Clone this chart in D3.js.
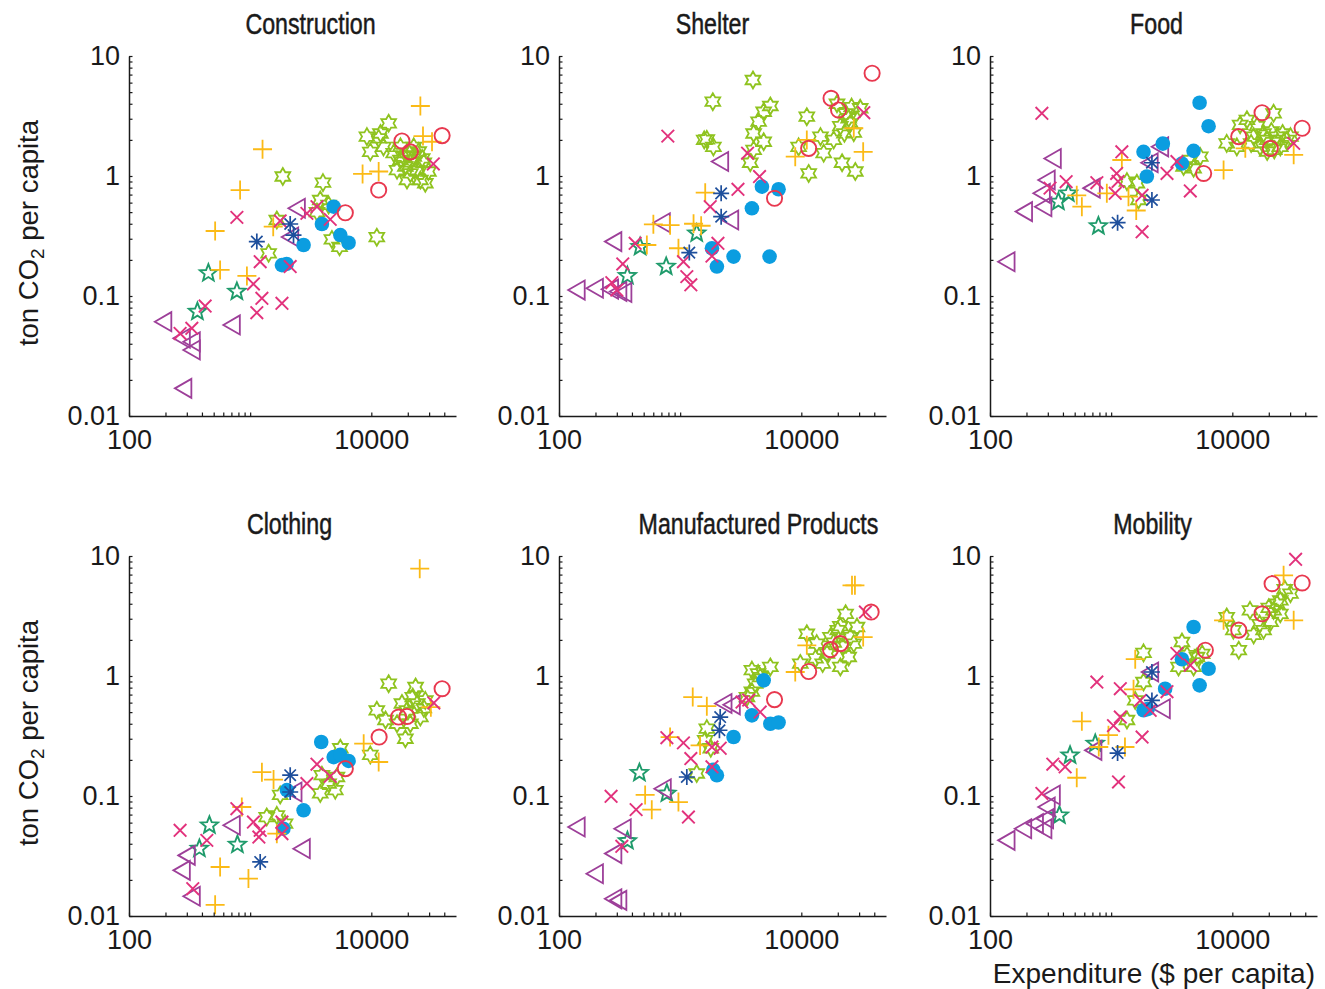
<!DOCTYPE html>
<html>
<head>
<meta charset="utf-8">
<script src="https://cdn.jsdelivr.net/npm/d3@7"></script>
<style>
  body { margin: 0; background: #fff; }
</style>
</head>
<body>
<svg id="chart" width="1325" height="989"></svg>
<script>
// panel titles, in reading order
var categories = ["Construction", "Shelter", "Food", "Clothing", "Manufactured Products", "Mobility"]

// each row: [group, expenditure ($ per capita), ton CO2 per capita]
var construction = [
  ["plus", 25400, 3.83], ["plus", 1265, 1.67], ["plus", 826, 0.764], ["plus", 514, 0.348], ["plus", 8470, 1.04],
  ["plus", 11500, 1.09], ["plus", 26700, 2.15], ["plus", 31700, 1.93], ["plus", 565, 0.165], ["plus", 940, 0.147], ["plus", 1550, 0.378],
  ["cross", 32500, 1.26], ["cross", 777, 0.452], ["cross", 1210, 0.193], ["cross", 1064, 0.126], ["cross", 1250, 0.0957],
  ["cross", 1135, 0.0726], ["cross", 1830, 0.0869], ["cross", 425, 0.0825], ["cross", 330, 0.0538], ["cross", 264, 0.0487],
  ["cross", 1770, 0.422], ["cross", 3560, 0.555], ["cross", 4580, 0.435], ["cross", 2140, 0.176], ["cross", 2940, 0.488],
  ["ast", 1135, 0.284], ["ast", 2140, 0.398], ["ast", 2280, 0.322],
  ["tri", 192, 0.0611], ["tri", 706, 0.0574], ["tri", 281, 0.017], ["tri", 330, 0.0355], ["tri", 273, 0.0444],
  ["tri", 2430, 0.538], ["tri", 2140, 0.31], ["tri", 330, 0.0416],
  ["pent", 452, 0.155], ["pent", 777, 0.109], ["pent", 367, 0.074],
  ["hex", 1860, 0.99], ["hex", 3990, 0.88], ["hex", 11100, 0.309], ["hex", 5470, 0.257], ["hex", 4730, 0.296],
  ["hex", 1420, 0.227], ["hex", 1660, 0.43], ["hex", 3790, 0.631], ["hex", 4440, 0.574], ["hex", 3560, 0.5],
  ["hex", 13900, 2.75], ["hex", 11500, 2.06], ["hex", 9810, 1.59], ["hex", 12600, 1.75], ["hex", 15300, 1.55],
  ["hex", 17400, 1.36], ["hex", 19100, 1.2], ["hex", 21000, 1.05], ["hex", 23900, 1.12], ["hex", 22400, 1.45],
  ["hex", 27100, 1.29], ["hex", 27900, 0.87], ["hex", 25400, 0.926], ["hex", 19700, 0.926], ["hex", 16300, 1.12],
  ["hex", 29600, 1.09], ["hex", 22400, 1.75], ["hex", 20500, 1.55], ["hex", 24600, 1.6], ["hex", 17400, 1.75],
  ["hex", 18400, 1.45], ["hex", 26300, 1.4], ["hex", 21000, 1.3], ["hex", 9200, 2.13], ["hex", 11900, 2.26],
  ["ring", 38400, 2.17], ["ring", 17900, 1.96], ["ring", 11500, 0.764], ["ring", 6100, 0.494], ["ring", 21000, 1.59],
  ["dot", 4890, 0.555], ["dot", 3910, 0.398], ["dot", 5550, 0.322], ["dot", 6490, 0.278], ["dot", 2760, 0.266],
  ["dot", 1830, 0.181], ["dot", 2000, 0.185]
]

var shelter = [
  ["ring", 38400, 7.18], ["ring", 17600, 4.44], ["ring", 20300, 3.55], ["ring", 11500, 1.7], ["ring", 6010, 0.652],
  ["dot", 4730, 0.815], ["dot", 6490, 0.775], ["dot", 3910, 0.538], ["dot", 1830, 0.25], ["dot", 2010, 0.176],
  ["dot", 2760, 0.213], ["dot", 5470, 0.213],
  ["ast", 2180, 0.717], ["ast", 2180, 0.458], ["ast", 1190, 0.23],
  ["tri", 140, 0.112], ["tri", 198, 0.116], ["tri", 264, 0.114], ["tri", 309, 0.109], ["tri", 340, 0.107],
  ["tri", 281, 0.284], ["tri", 706, 0.408], ["tri", 2140, 1.32], ["tri", 2590, 0.43],
  ["pent", 467, 0.257], ["pent", 767, 0.176], ["pent", 367, 0.147], ["pent", 1370, 0.333],
  ["plus", 8910, 1.45], ["plus", 11100, 2.0], ["plus", 27100, 2.5], ["plus", 32400, 1.59], ["plus", 1610, 0.726],
  ["plus", 601, 0.396], ["plus", 826, 0.389], ["plus", 1290, 0.4], ["plus", 1490, 0.385], ["plus", 968, 0.25], ["plus", 531, 0.266],
  ["cross", 791, 2.15], ["cross", 32800, 3.37], ["cross", 3600, 1.55], ["cross", 4520, 0.99], ["cross", 3000, 0.775],
  ["cross", 1770, 0.555], ["cross", 2050, 0.275], ["cross", 1830, 0.215], ["cross", 1064, 0.193], ["cross", 1135, 0.145],
  ["cross", 1225, 0.124], ["cross", 425, 0.275], ["cross", 336, 0.185], ["cross", 273, 0.129], ["cross", 300, 0.112],
  ["hex", 3990, 6.31], ["hex", 1860, 4.16], ["hex", 1660, 2.02], ["hex", 1880, 1.75], ["hex", 1580, 2.0],
  ["hex", 5550, 3.83], ["hex", 4890, 3.43], ["hex", 4440, 2.84], ["hex", 4040, 2.26], ["hex", 4890, 1.93],
  ["hex", 4040, 1.65], ["hex", 3790, 1.29], ["hex", 11100, 3.12], ["hex", 11500, 1.05], ["hex", 9500, 1.75],
  ["hex", 15300, 1.55], ["hex", 14400, 2.13], ["hex", 18500, 2.0], ["hex", 21700, 1.29], ["hex", 27900, 1.09],
  ["hex", 21000, 2.6], ["hex", 25400, 2.75], ["hex", 23200, 3.33], ["hex", 30600, 3.67], ["hex", 26000, 3.75],
  ["hex", 22700, 2.27], ["hex", 19700, 4.0], ["hex", 27100, 2.3], ["hex", 24600, 3.03]
]

var food = [
  ["tri", 137, 0.193], ["tri", 191, 0.505], ["tri", 276, 0.555], ["tri", 268, 0.717], ["tri", 294, 0.926],
  ["tri", 330, 1.4], ["tri", 692, 0.792], ["tri", 2080, 1.29], ["tri", 2540, 1.75],
  ["pent", 367, 0.611], ["pent", 443, 0.717], ["pent", 785, 0.383],
  ["ast", 1130, 0.408], ["ast", 2170, 0.631], ["ast", 2170, 1.29],
  ["dot", 5370, 4.08], ["dot", 6370, 2.6], ["dot", 1850, 1.59], ["dot", 2670, 1.86], ["dot", 4790, 1.62],
  ["dot", 3840, 1.27], ["dot", 1970, 0.99],
  ["ring", 17600, 3.37], ["ring", 37700, 2.5], ["ring", 11300, 2.13], ["ring", 5800, 1.05], ["ring", 20600, 1.7],
  ["plus", 8470, 1.12], ["plus", 12800, 1.7], ["plus", 32100, 1.5], ["plus", 1225, 1.36], ["plus", 573, 0.555],
  ["plus", 520, 0.69], ["plus", 921, 0.717], ["plus", 1610, 0.516], ["plus", 1390, 0.673],
  ["cross", 268, 3.33], ["cross", 425, 0.897], ["cross", 313, 0.792], ["cross", 762, 0.88], ["cross", 1080, 0.717],
  ["cross", 1110, 1.05], ["cross", 1140, 0.9], ["cross", 1225, 1.59], ["cross", 1800, 0.69], ["cross", 1800, 0.343],
  ["cross", 2890, 1.05], ["cross", 3490, 1.32], ["cross", 4500, 0.75], ["cross", 32100, 1.87],
  ["hex", 1350, 0.897], ["hex", 1630, 0.87], ["hex", 1680, 0.631], ["hex", 3960, 1.2], ["hex", 4500, 1.36],
  ["hex", 5440, 1.45], ["hex", 4790, 1.16], ["hex", 8990, 1.87], ["hex", 11600, 2.67], ["hex", 13200, 2.94],
  ["hex", 10900, 1.75], ["hex", 15000, 2.13], ["hex", 18100, 2.26], ["hex", 21900, 3.33], ["hex", 19400, 2.0],
  ["hex", 23400, 2.13], ["hex", 24900, 1.75], ["hex", 28300, 2.0], ["hex", 17000, 1.75], ["hex", 21000, 2.35],
  ["hex", 26000, 2.26], ["hex", 16000, 2.6], ["hex", 30200, 2.13], ["hex", 14300, 1.87], ["hex", 22200, 1.65],
  ["hex", 19400, 1.6]
]

var clothing = [
  ["plus", 25100, 7.84], ["plus", 1250, 0.158], ["plus", 1560, 0.137], ["plus", 853, 0.081], ["plus", 565, 0.0256],
  ["plus", 968, 0.0205], ["plus", 514, 0.0124], ["plus", 8650, 0.273], ["plus", 11500, 0.192], ["plus", 1660, 0.0485],
  ["plus", 31000, 0.55],
  ["cross", 264, 0.0518], ["cross", 439, 0.0427], ["cross", 777, 0.0784], ["cross", 1064, 0.0607], ["cross", 1210, 0.0518],
  ["cross", 1180, 0.0455], ["cross", 1830, 0.0607], ["cross", 1830, 0.0485], ["cross", 3560, 0.184], ["cross", 2940, 0.127],
  ["cross", 4580, 0.146], ["cross", 336, 0.0169], ["cross", 32800, 0.596],
  ["ast", 2140, 0.149], ["ast", 2140, 0.108], ["ast", 1210, 0.0282],
  ["tri", 273, 0.024], ["tri", 300, 0.032], ["tri", 330, 0.0146], ["tri", 706, 0.057], ["tri", 2670, 0.0364], ["tri", 2280, 0.108],
  ["pent", 461, 0.057], ["pent", 785, 0.0393], ["pent", 381, 0.0364],
  ["dot", 3860, 0.282], ["dot", 4890, 0.211], ["dot", 5550, 0.22], ["dot", 6490, 0.196], ["dot", 2760, 0.076],
  ["dot", 1880, 0.0534], ["dot", 2010, 0.112],
  ["ring", 38400, 0.784], ["ring", 16800, 0.455], ["ring", 11600, 0.31], ["ring", 6100, 0.169], ["ring", 19700, 0.46],
  ["hex", 13900, 0.863], ["hex", 23200, 0.81], ["hex", 11100, 0.518], ["hex", 9810, 0.22], ["hex", 19100, 0.3],
  ["hex", 16300, 0.4], ["hex", 21000, 0.4], ["hex", 25400, 0.455], ["hex", 24000, 0.59], ["hex", 27900, 0.626],
  ["hex", 17900, 0.59], ["hex", 19700, 0.518], ["hex", 27100, 0.54], ["hex", 13100, 0.43], ["hex", 22000, 0.667],
  ["hex", 5550, 0.25], ["hex", 3910, 0.149], ["hex", 3790, 0.105], ["hex", 5040, 0.112], ["hex", 4440, 0.127],
  ["hex", 5200, 0.144], ["hex", 1770, 0.102], ["hex", 1370, 0.0668], ["hex", 1660, 0.069], ["hex", 1940, 0.0588]
]

var manufactured = [
  ["plus", 26200, 5.7], ["plus", 27700, 5.7], ["plus", 32400, 2.11], ["plus", 11100, 1.8], ["plus", 8910, 1.08],
  ["plus", 1270, 0.667], ["plus", 1660, 0.56], ["plus", 1460, 0.264], ["plus", 514, 0.102], ["plus", 583, 0.0769],
  ["plus", 968, 0.089], ["plus", 826, 0.31],
  ["cross", 33800, 3.41], ["cross", 269, 0.0994], ["cross", 433, 0.077], ["cross", 330, 0.0381], ["cross", 777, 0.306],
  ["cross", 1064, 0.277], ["cross", 1170, 0.0668], ["cross", 1225, 0.205], ["cross", 1830, 0.256], ["cross", 2140, 0.25],
  ["cross", 1830, 0.175], ["cross", 3240, 0.607], ["cross", 3680, 0.63], ["cross", 4580, 0.501],
  ["ast", 2140, 0.455], ["ast", 2110, 0.353], ["ast", 1135, 0.144],
  ["tri", 140, 0.0552], ["tri", 198, 0.0225], ["tri", 281, 0.0331], ["tri", 336, 0.0534], ["tri", 281, 0.0139],
  ["tri", 309, 0.0135], ["tri", 719, 0.115], ["tri", 2280, 0.59], ["tri", 2670, 0.575],
  ["pent", 461, 0.156], ["pent", 777, 0.105], ["pent", 367, 0.0422],
  ["dot", 4890, 0.92], ["dot", 3910, 0.47], ["dot", 5550, 0.4], ["dot", 6490, 0.41], ["dot", 2760, 0.31],
  ["dot", 2010, 0.149], ["dot", 1880, 0.165],
  ["ring", 37700, 3.41], ["ring", 21000, 1.86], ["ring", 17400, 1.66], ["ring", 11500, 1.09], ["ring", 6010, 0.636],
  ["hex", 23200, 3.3], ["hex", 11100, 2.25], ["hex", 13400, 1.86], ["hex", 16300, 1.54], ["hex", 21000, 1.19],
  ["hex", 25400, 2.11], ["hex", 28800, 2.56], ["hex", 20000, 2.41], ["hex", 17400, 2.11], ["hex", 22000, 1.75],
  ["hex", 24600, 1.44], ["hex", 15000, 1.27], ["hex", 27100, 1.86], ["hex", 21000, 2.6], ["hex", 18500, 1.9],
  ["hex", 9810, 1.27], ["hex", 13100, 1.4], ["hex", 3910, 1.12], ["hex", 5550, 1.19], ["hex", 4580, 0.98],
  ["hex", 4160, 0.863], ["hex", 3910, 0.74], ["hex", 3560, 0.667], ["hex", 4400, 1.05], ["hex", 1660, 0.364],
  ["hex", 1610, 0.292], ["hex", 1790, 0.25], ["hex", 1370, 0.154]
]

var mobility = [
  ["tri", 137, 0.0427], ["tri", 188, 0.0534], ["tri", 235, 0.0588], ["tri", 276, 0.0534], ["tri", 285, 0.0647],
  ["tri", 294, 0.081], ["tri", 324, 0.102], ["tri", 714, 0.24], ["tri", 2100, 1.08], ["tri", 2620, 0.534],
  ["pent", 374, 0.069], ["pent", 458, 0.218], ["pent", 739, 0.273],
  ["ast", 1130, 0.228], ["ast", 2170, 1.08], ["ast", 2170, 0.626],
  ["dot", 4790, 2.56], ["dot", 6370, 1.15], ["dot", 5370, 0.836], ["dot", 3840, 1.38], ["dot", 2790, 0.784],
  ["dot", 1850, 0.518], ["dot", 2000, 0.53],
  ["ring", 21300, 5.88], ["ring", 37700, 5.96], ["ring", 17600, 3.3], ["ring", 11300, 2.41], ["ring", 5990, 1.64],
  ["plus", 26500, 6.9], ["plus", 32100, 2.91], ["plus", 8470, 2.91], ["plus", 1580, 1.38], ["plus", 1530, 0.775],
  ["plus", 573, 0.419], ["plus", 950, 0.321], ["plus", 520, 0.142], ["plus", 1300, 0.256], ["plus", 790, 0.256],
  ["cross", 33300, 9.38], ["cross", 762, 0.891], ["cross", 1190, 0.784], ["cross", 1190, 0.455], ["cross", 1045, 0.386],
  ["cross", 1800, 0.31], ["cross", 1150, 0.131], ["cross", 330, 0.184], ["cross", 417, 0.175], ["cross", 268, 0.105],
  ["cross", 3490, 1.54], ["cross", 4500, 1.23], ["cross", 2890, 0.74], ["cross", 1740, 0.626], ["cross", 2100, 0.518],
  ["hex", 1850, 1.56], ["hex", 1850, 0.891], ["hex", 1580, 0.626], ["hex", 1350, 0.43], ["hex", 3840, 1.92],
  ["hex", 3600, 1.19], ["hex", 4230, 1.49], ["hex", 5110, 1.44], ["hex", 4790, 1.19], ["hex", 5640, 1.53],
  ["hex", 8990, 3.1], ["hex", 11300, 1.64], ["hex", 10200, 2.41], ["hex", 14000, 3.52], ["hex", 18100, 2.41],
  ["hex", 21900, 3.52], ["hex", 24900, 4.27], ["hex", 30200, 4.86], ["hex", 27100, 5.3], ["hex", 20700, 2.82],
  ["hex", 16800, 2.71], ["hex", 24900, 3.3], ["hex", 23400, 4.0], ["hex", 15000, 2.2], ["hex", 20000, 3.7]
]

var panelData = [construction, shelter, food, clothing, manufactured, mobility]

// axis ticks (the source figure has no minor ticks between 1000 and 10000)
var xTickValues = [100, 200, 300, 400, 500, 600, 700, 800, 900, 1000, 10000, 20000, 30000, 40000]
var xTickLabels = [100, 10000]
var yTickValues = [0.01, 0.02, 0.03, 0.04, 0.05, 0.06, 0.07, 0.08, 0.09,
                   0.1, 0.2, 0.3, 0.4, 0.5, 0.6, 0.7, 0.8, 0.9,
                   1, 2, 3, 4, 5, 6, 7, 8, 9, 10]
var yTickLabels = [0.01, 0.1, 1, 10]

// ---- layout and styles ----
var panelLeft = [129, 559, 990],
    panelTop = [56, 556],
    pw = 327,
    ph = 360
var titleShift = [18, -10, 3, -3, 36, -1]

var tickFont = "'Liberation Sans', Arial, Helvetica, sans-serif"
var ink = "#1a1a1a"

function starPath(n, R, r) {
  var pts = []
  for (var k = 0; k < 2 * n; k++) {
    var a = -Math.PI / 2 + k * Math.PI / n,
        rad = (k % 2 === 0) ? R : r
    pts.push([rad * Math.cos(a), rad * Math.sin(a)])
  }
  return "M" + pts.map(function (p) { return p[0].toFixed(2) + "," + p[1].toFixed(2) }).join("L") + "Z"
}

function circlePath(r) {
  return "M" + (-r) + ",0A" + r + "," + r + " 0 1,0 " + r + ",0A" + r + "," + r + " 0 1,0 " + (-r) + ",0Z"
}

var markerStyle = {
  hex:   { color: "#8fc31f", d: starPath(6, 8.5, 8.5 / Math.sqrt(3)), w: 1.8 },
  pent:  { color: "#1f9b6b", d: starPath(5, 9, 3.9), w: 1.9 },
  tri:   { color: "#9d3f99", d: "M-8.5,0L8,-9.5L8,9.5Z", w: 1.8 },
  dot:   { color: "#0b9de0", d: circlePath(7.3), filled: true },
  plus:  { color: "#fbba16", d: "M-9.5,0H9.5M0,-9.5V9.5", w: 1.8 },
  cross: { color: "#e2327c", d: "M-6.3,-6.3L6.3,6.3M-6.3,6.3L6.3,-6.3", w: 1.9 },
  ast:   { color: "#1e4f9c", d: "M-8,0H8M0,-8V8M-5.7,-5.7L5.7,5.7M-5.7,5.7L5.7,-5.7", w: 1.7 },
  ring:  { color: "#e8384f", d: circlePath(7.6), w: 1.9 }
}
var drawOrder = ["hex", "pent", "tri", "dot", "plus", "cross", "ast", "ring"]

var svg = d3.select("#chart")

categories.forEach(function (name, i) {
  var col = i % 3,
      row = Math.floor(i / 3),
      left = panelLeft[col],
      top = panelTop[row]

  var x = d3.scaleLog().domain([100, 50000]).range([0, pw])
  var y = d3.scaleLog().domain([0.01, 10]).range([ph, 0])

  var g = svg.append("g").attr("transform", "translate(" + left + "," + top + ")")

  // Scatter markers, one layer per group.
  var rows = panelData[i]
  drawOrder.forEach(function (key) {
    var st = markerStyle[key]
    g.append("g").selectAll("path")
      .data(rows.filter(function (r) { return r[0] === key }))
      .join("path")
        .attr("transform", function (d) { return "translate(" + x(d[1]) + "," + y(d[2]) + ")" })
        .attr("d", st.d)
        .attr("fill", st.filled ? st.color : "none")
        .attr("stroke", st.filled ? "none" : st.color)
        .attr("stroke-width", st.w || 0)
  })

  // Axes, ticks pointing inward.
  var xAxis = d3.axisBottom(x)
    .tickValues(xTickValues)
    .tickSizeInner(-3.5)
    .tickSizeOuter(0)
    .tickPadding(14)
    .tickFormat(function (d) { return xTickLabels.indexOf(d) >= 0 ? String(d) : "" })

  var yAxis = d3.axisLeft(y)
    .tickValues(yTickValues)
    .tickSizeInner(-3.5)
    .tickSizeOuter(0)
    .tickPadding(9)
    .tickFormat(function (d) { return yTickLabels.indexOf(d) >= 0 ? String(d) : "" })

  var axes = [
    g.append("g").attr("transform", "translate(0," + ph + ")").call(xAxis),
    g.append("g").call(yAxis)
  ]
  axes.forEach(function (a) {
    a.attr("font-family", tickFont).attr("font-size", 27)
    a.select(".domain").attr("stroke", ink).attr("stroke-width", 1.5)
    a.selectAll(".tick line").attr("stroke", ink).attr("stroke-width", 1.2)
    a.selectAll(".tick text").attr("fill", ink)
  })

  // Panel title: a condensed look, squeezed horizontally
  svg.append("text")
    .attr("transform", "translate(" + (left + pw / 2 + titleShift[i]) + "," + (top - 22) + ") scale(0.8,1)")
    .attr("text-anchor", "middle")
    .attr("font-family", tickFont)
    .attr("font-size", 29)
    .attr("fill", ink)
    .attr("stroke", ink)
    .attr("stroke-width", 0.5)
    .text(name)

  // Y label on the left column
  if (col === 0) {
    var yl = svg.append("text")
      .attr("transform", "translate(38," + (top + ph / 2 - 3) + ") rotate(-90)")
      .attr("text-anchor", "middle")
      .attr("font-family", tickFont)
      .attr("font-size", 27.5)
      .attr("fill", ink)
    yl.append("tspan").text("ton CO")
    yl.append("tspan").attr("font-size", 19).attr("dy", "0.32em").text("2")
    yl.append("tspan").attr("dy", "-0.22em").text(" per capita")
  }
})

// X label under the last panel only
svg.append("text")
  .attr("x", 1315)
  .attr("y", 983)
  .attr("text-anchor", "end")
  .attr("font-family", tickFont)
  .attr("font-size", 28)
  .attr("fill", ink)
  .text("Expenditure ($ per capita)")
</script>
</body>
</html>
